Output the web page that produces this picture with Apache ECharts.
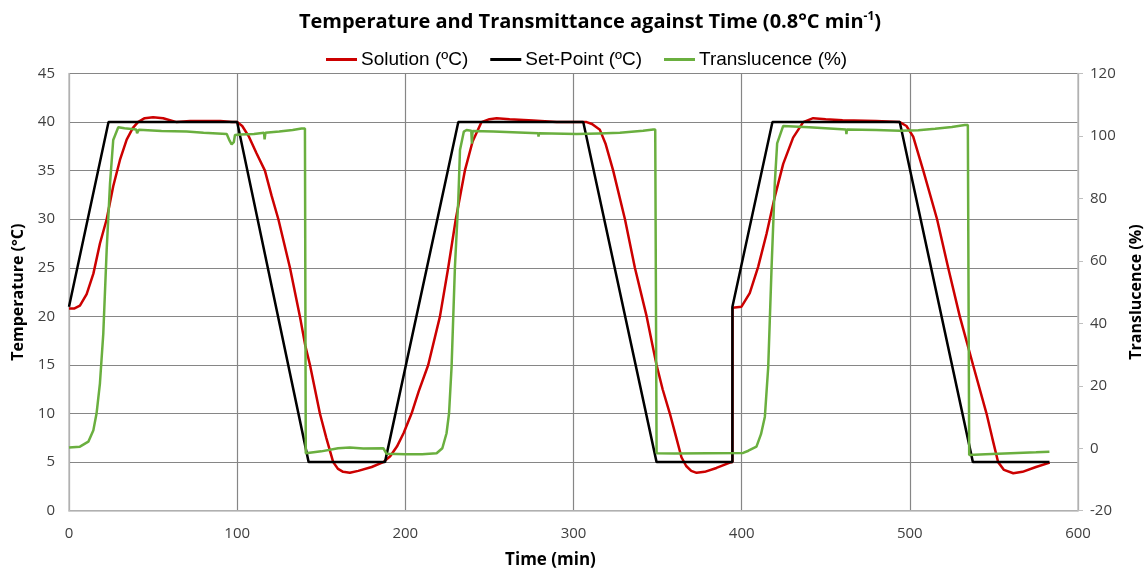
<!DOCTYPE html>
<html>
<head>
<meta charset="utf-8">
<script src="https://cdn.jsdelivr.net/npm/echarts@6/dist/echarts.min.js"></script>
<style>
  html, body { margin: 0; padding: 0; background: #fff; }
  #chart { width: 1145px; height: 570px; }
</style>
</head>
<body>
<div id="chart"></div>
<script>
// set-point (°C)
let setTime = [0, 23.5, 100, 142.5, 187.9, 231.5, 305.8, 349.4, 394.5, 394.5, 418.3, 494, 537.5, 583]
let setTemp = [21, 40, 40, 5, 5, 40, 40, 5, 5, 21, 40, 40, 5, 5]

// solution (°C)
let solTime = [0, 3, 6.5, 10.5, 14.5, 18.4, 22.4, 26.3, 30.3, 34.3, 38, 41, 45, 50, 56, 64, 72, 80, 90, 97, 100,
  103, 107, 111.5, 116.5, 120.5, 124.5, 131.4, 137.3, 140.5, 143.3, 149.2, 153, 157.1, 160, 163, 167, 172, 180, 186.9,
  191, 195, 199, 203.7, 208, 213.6, 220.6, 225.5, 230, 235.4, 240, 245.3, 250, 254.3, 262, 276, 290, 300, 307.8,
  311, 315.7, 319, 323.6, 330.6, 336.5, 343.5, 347, 349.4, 353, 357.3, 361, 364.2, 367, 370, 373.2, 378, 385, 393, 394.5,
  394.6, 399.9, 404.8, 409.8, 414.8, 419.7, 424.7, 430.6, 436.6, 442.5, 450, 460, 480, 494,
  498, 502, 508, 516.2, 522.8, 529.7, 537.6, 545.6, 549, 552.5, 556, 561.5, 567, 575, 583.2]
let solTemp = [20.8, 20.8, 21.1, 22.3, 24.4, 27.5, 30, 33.4, 36.1, 38.2, 39.4, 40, 40.4, 40.5, 40.4, 40.0, 40.1, 40.1, 40.1, 40.0, 40.0,
  39.6, 38.5, 36.8, 35, 32.4, 30, 25, 20, 17, 15, 10, 7.5, 5, 4.3, 4.0, 3.9, 4.1, 4.5, 5.0,
  5.6, 6.6, 8, 10, 12.3, 15, 20, 25, 30, 35, 38, 40, 40.3, 40.4, 40.3, 40.15, 40.0, 40.0, 40,
  39.8, 39.2, 37.8, 35, 30, 25, 20, 17, 15, 12.5, 10, 7.6, 5.5, 4.6, 4.1, 3.9, 4.0, 4.4, 4.95, 5.0,
  20.9, 21.0, 22.4, 25.1, 28.5, 32.3, 35.7, 38.4, 40, 40.4, 40.3, 40.2, 40.1, 40.0,
  39.6, 38.5, 35, 30, 25, 20, 15, 10, 7.5, 5, 4.2, 3.85, 4.0, 4.5, 4.95]

// translucence (%)
let trTime = [0, 6.5, 11.5, 14.5, 16.4, 18.4, 20.4, 22.4, 24.4, 26.3, 29.3, 33, 40, 40.5, 41.5, 55, 70, 80, 93.8,
  95.5, 96.7, 98, 98.7, 102, 110, 116, 116.3, 116.8, 125, 133, 138.3, 140.3, 140.8, 150, 160, 167, 175, 186.9,
  188.9, 200, 210, 218.6, 222, 224.5, 226, 227.5, 229.5, 231.5, 232.5, 234.8, 236.4, 239.2, 239.6, 240, 252.3,
  279, 279.2, 279.5, 301.8, 315, 327.6, 341.4, 347.4, 348.6, 349.4, 360, 380, 400.9, 404, 408.8, 411.5, 413.8,
  415.8, 417.8, 419.7, 421.1, 424.7, 440, 462, 462.3, 462.6, 480, 494, 505, 515, 525, 532.7, 534.5, 535.3,
  545, 560, 575, 583]
let trValue = [0.2, 0.5, 2.1, 5.8, 11.2, 20.8, 36.8, 63.5, 84.8, 98.7, 102.8, 102.5, 102.1, 100.9, 102.0, 101.6, 101.4, 101.0, 100.6,
  98.5, 97.3, 98.0, 100.3, 100.5, 100.6, 101.0, 98.9, 101.0, 101.4, 101.9, 102.4, 102.4, -1.6, -1.0, 0.0, 0.2, -0.1, 0.0,
  -1.8, -1.9, -1.9, -1.6, 0, 4.8, 11.2, 26.1, 58.1, 79.5, 95.5, 101.4, 101.9, 101.7, 97.5, 101.6, 101.4,
  100.9, 99.8, 100.9, 100.6, 100.8, 101.0, 101.7, 102.1, 102.1, -1.6, -1.7, -1.6, -1.5, -0.8, 0.5, 4.5, 10.1,
  26.1, 58.1, 84.8, 97.6, 103.2, 102.8, 102.1, 100.6, 102.1, 101.9, 101.7, 101.8, 102.3, 102.9, 103.5, 103.5, -2.2,
  -1.9, -1.6, -1.3, -1.1]

let zip = (xs, ys) => xs.map((x, i) => [x, ys[i]])

let FONT = 'Open Sans'
let LEGEND_FONT = 'Liberation Sans'
let labelColor = '#404040'

let myChart = echarts.init(document.getElementById('chart'), null, { renderer: 'canvas' })
let option = {
  animation: false,
  backgroundColor: '#fff',
  title: {
    text: '{a|Temperature and Transmittance against Time (0.8°C min}{s|-1}{a|)}',
    left: 585,
    textAlign: 'center',
    top: 6,
    textStyle: {
      rich: {
        a: { fontFamily: FONT, fontSize: 20, fontWeight: 'bold', color: '#000' },
        s: { fontFamily: FONT, fontSize: 12, fontWeight: 'bold', color: '#000', verticalAlign: 'top', padding: [0, 0, 10, 0] }
      }
    }
  },
  legend: {
    top: 45,
    left: 321,
    icon: 'rect',
    itemWidth: 31,
    itemHeight: 3,
    itemGap: 22,
    textStyle: { fontFamily: LEGEND_FONT, fontSize: 19, color: '#000', padding: [0, 0, 0, -1] },
    data: ['Solution (ºC)', 'Set-Point (ºC)', 'Translucence (%)']
  },
  grid: { left: 69, right: 67, top: 73.5, bottom: 59.3, containLabel: false, outerBoundsMode: 'none' },
  xAxis: {
    type: 'value',
    min: 0,
    max: 600,
    interval: 100,
    name: 'Time (min)',
    nameLocation: 'middle',
    nameGap: 41,
    nameTextStyle: { fontFamily: FONT, fontSize: 17, fontWeight: 'bold', color: '#000', padding: [0, 46, 0, 0] },
    axisLine: { lineStyle: { color: '#bfbfbf', width: 1.5 } },
    axisTick: { show: false },
    axisLabel: { fontFamily: FONT, fontSize: 15, color: labelColor, margin: 16 },
    splitLine: { lineStyle: { color: '#868686', width: 1.2 } }
  },
  yAxis: [
    {
      type: 'value',
      min: 0,
      max: 45,
      interval: 5,
      name: 'Temperature (°C)',
      nameLocation: 'middle',
      nameGap: 43,
      nameTextStyle: { fontFamily: FONT, fontSize: 16, fontWeight: 'bold', color: '#000' },
      axisLine: { show: true, lineStyle: { color: '#bfbfbf', width: 1.5 } },
      axisTick: { show: false },
      axisLabel: { fontFamily: FONT, fontSize: 15, color: labelColor, margin: 14 },
      splitLine: { lineStyle: { color: '#868686', width: 1.2 } }
    },
    {
      type: 'value',
      min: -20,
      max: 120,
      interval: 20,
      position: 'right',
      name: 'Translucence (%)',
      nameLocation: 'middle',
      nameGap: 50,
      nameRotate: 90,
      nameTextStyle: { fontFamily: FONT, fontSize: 16, fontWeight: 'bold', color: '#000' },
      axisLine: { show: true, lineStyle: { color: '#bfbfbf', width: 1.5 } },
      axisTick: { show: true, length: 5, lineStyle: { color: '#bfbfbf' } },
      axisLabel: { fontFamily: FONT, fontSize: 15, color: labelColor, margin: 12 },
      splitLine: { show: false }
    }
  ],
  series: [
    {
      name: 'Solution (ºC)',
      type: 'line',
      yAxisIndex: 0,
      symbol: 'none',
      lineStyle: { color: '#cc0000', width: 2.5 },
      itemStyle: { color: '#cc0000' },
      data: zip(solTime, solTemp)
    },
    {
      name: 'Set-Point (ºC)',
      type: 'line',
      yAxisIndex: 0,
      symbol: 'none',
      lineStyle: { color: '#000', width: 2.5 },
      itemStyle: { color: '#000' },
      data: zip(setTime, setTemp)
    },
    {
      name: 'Translucence (%)',
      type: 'line',
      yAxisIndex: 1,
      symbol: 'none',
      lineStyle: { color: '#6aaf3f', width: 2.5 },
      itemStyle: { color: '#6aaf3f' },
      data: zip(trTime, trValue)
    }
  ]
}
myChart.setOption(option)
</script>
</body>
</html>
